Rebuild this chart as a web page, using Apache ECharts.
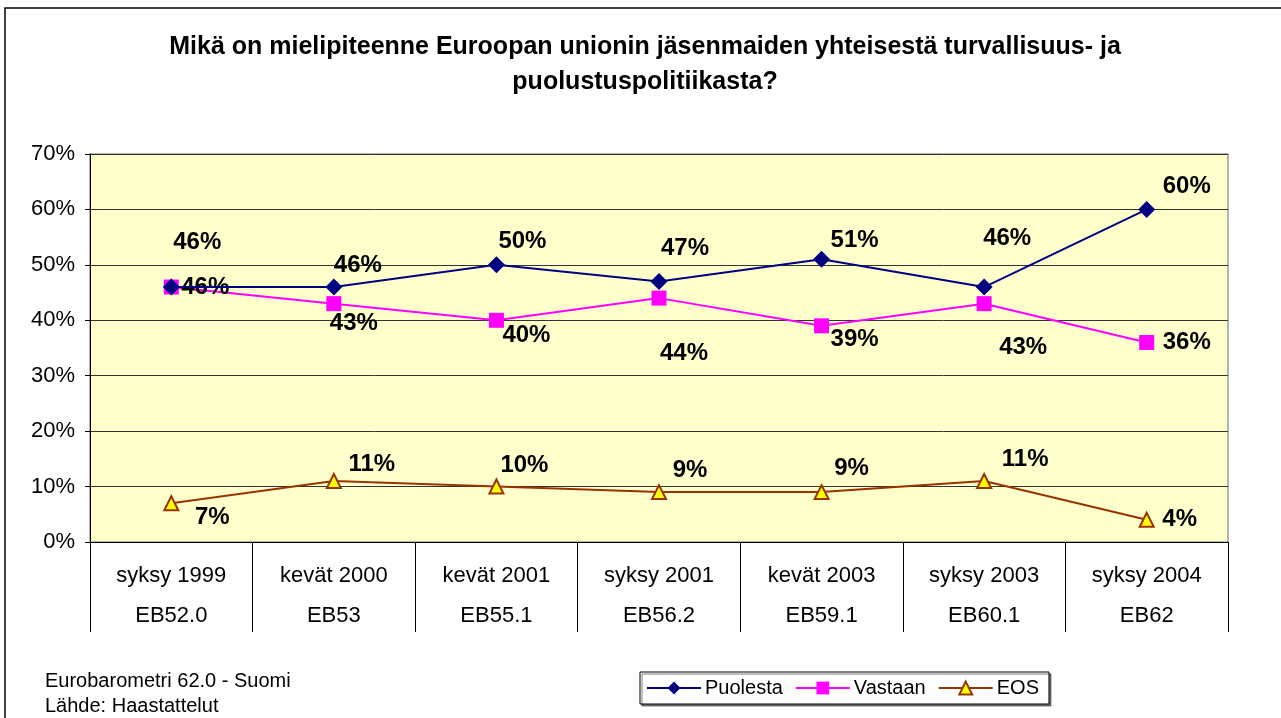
<!DOCTYPE html>
<html>
<head>
<meta charset="utf-8">
<script src="https://cdn.jsdelivr.net/npm/echarts@6/dist/echarts.min.js"></script>
<style>html,body{margin:0;padding:0;background:#fff;}#c{width:1281px;height:718px;}</style>
</head>
<body>
<div id="c"></div>
<script>
const periods = ['syksy 1999','kevät 2000','kevät 2001','syksy 2001','kevät 2003','syksy 2003','syksy 2004'];
const waves = ['EB52.0','EB53','EB55.1','EB56.2','EB59.1','EB60.1','EB62'];
const puolesta = [46,46,50,47,51,46,60];
const vastaan = [46,43,40,44,39,43,36];
const eos = [7,11,10,9,9,11,4];
const yTicks = [0,10,20,30,40,50,60,70];

// label layout offsets (pixels) — presentation only
const offP = [[26,-45],[24,-22],[26,-23],[26,-33],[33,-19],[23,-49],[40,-23]];
const offV = [[34,0],[20,20],[30,15],[25,55],[33,14],[39,44],[40,0]];
const offE = [[41,14],[38,-17],[28,-21],[31,-22],[30,-24],[41,-22],[33,0]];

const FONT = '"Liberation Sans", Arial, sans-serif';
function mk(vals, offs){
  return vals.map((v,i)=>({value:v,label:{offset:[offs[i][0], offs[i][1]]}}));
}
const lbl = {show:true, position:'inside', formatter:'{c}%', fontFamily:FONT, fontWeight:'bold', fontSize:24, color:'#000'};

const chart = echarts.init(document.getElementById('c'));
chart.setOption({
  animation:false,
  backgroundColor:'#fff',
  title:{
    text:'Mikä on mielipiteenne Euroopan unionin jäsenmaiden yhteisestä turvallisuus- ja\npuolustuspolitiikasta?',
    left:640, top:25, textAlign:'center',
    textStyle:{fontFamily:FONT, fontWeight:'bold', fontSize:25, lineHeight:35, color:'#000'}
  },
  graphic:[
    {type:'polyline', shape:{points:[[5,718],[5,8],[1281,8]]}, style:{stroke:'#000', lineWidth:1.5, fill:null}, silent:true},
    {type:'text', left:45, top:669, style:{text:'Eurobarometri 62.0 - Suomi\nLähde: Haastattelut', font:'20px '+FONT, lineHeight:25, fill:'#000'}}
  ],
  legend:{
    left:640, top:672, itemWidth:54, itemHeight:16, itemGap:12,
    padding:[6,10,6,6],
    borderColor:'#000', borderWidth:1, backgroundColor:'#fff',
    shadowColor:'rgba(0,0,0,0.5)', shadowOffsetX:2, shadowOffsetY:2,
    textStyle:{fontFamily:FONT, fontSize:20, color:'#000', padding:[0,0,0,-1]},
    data:['Puolesta','Vastaan','EOS']
  },
  grid:{left:90, right:53, top:154, bottom:176, show:true, backgroundColor:'#FFFFCC', borderColor:'#9a9a9a', borderWidth:1.5},
  xAxis:{
    type:'category', data:periods, boundaryGap:true,
    axisLine:{lineStyle:{color:'#000', width:1}},
    axisTick:{show:true, length:90, lineStyle:{color:'#000', width:1}},
    axisLabel:{
      margin:14, interval:0,
      formatter:function(v, i){ return '{a|'+v+'}\n{a|'+waves[i]+'}'; },
      rich:{a:{fontFamily:FONT, fontSize:22, color:'#000', lineHeight:40}}
    }
  },
  yAxis:{
    type:'value', min:0, max:70, interval:10,
    axisLine:{show:true, lineStyle:{color:'#000', width:1}},
    axisTick:{show:true, length:5, lineStyle:{color:'#000'}},
    splitLine:{show:true, lineStyle:{color:'#333', width:1}},
    axisLabel:{formatter:function(v){return yTicks.indexOf(v)>=0 ? v+'%' : '';}, fontFamily:FONT, fontSize:22, color:'#000', margin:15}
  },
  series:[
    {name:'Puolesta', type:'line', data:mk(puolesta,offP), symbol:'diamond', symbolSize:17,
     lineStyle:{color:'#000080', width:2}, itemStyle:{color:'#000080'}, label:lbl, z:3},
    {name:'Vastaan', type:'line', data:mk(vastaan,offV), symbol:'rect', symbolSize:15,
     lineStyle:{color:'#FF00FF', width:2}, itemStyle:{color:'#FF00FF'}, label:lbl, z:2},
    {name:'EOS', type:'line', data:mk(eos,offE), symbol:'triangle', symbolSize:14,
     lineStyle:{color:'#993300', width:2}, itemStyle:{color:'#FFFF00', borderColor:'#993300', borderWidth:2}, label:lbl, z:2}
  ]
});
</script>
</body>
</html>
